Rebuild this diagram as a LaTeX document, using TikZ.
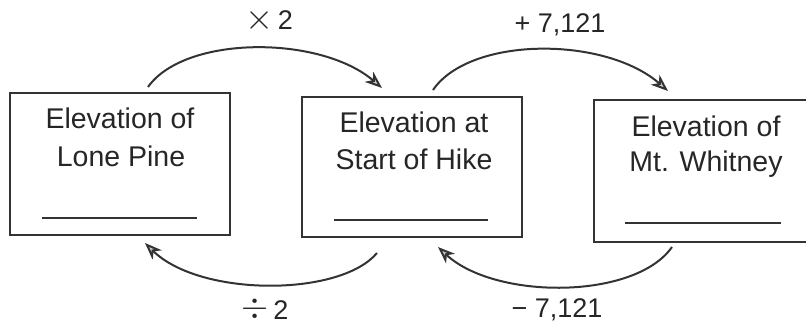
\documentclass[tikz,border=0pt]{standalone}
\usepackage{graphicx}
\usepackage{fontspec}
\setmainfont{Liberation Sans}
\usetikzlibrary{arrows.meta}
\definecolor{ink}{gray}{0.2}
\tikzset{
  box/.style={draw=ink, line width=1.9pt, rectangle, inner sep=0pt},
  txt/.style={anchor=base, inner sep=0pt, text=black!85, font=\fontsize{28.5}{34}\selectfont},
  lbl/.style={anchor=base, inner sep=0pt, text=black!85, font=\fontsize{27}{32}\selectfont},
  blank/.style={draw=ink, line width=1.1pt},
  arc/.style={draw=ink, line width=2pt, -{Stealth[length=17pt,width=13pt,inset=5pt,fill=gray!40]}}
}
\begin{document}
\begin{tikzpicture}[x=1pt,y=1pt]
\useasboundingbox (0,0) rectangle (806,328);
% boxes
\node[box, minimum width=220pt, minimum height=142pt] (b1) at (120,164) {};
\node[box, minimum width=220pt, minimum height=140pt] (b2) at (412,161) {};
\node[box, minimum width=224pt, minimum height=142pt] (b3) at (706,157) {};
% texts
\node[txt] (t1a) at (120,199) {Elevation of};
\node[txt] (t1b) at (121,161) {Lone Pine};
\node[txt] (t2a) at (414,195) {Elevation at};
\node[txt] (t2b) at (414,158) {Start of Hike};
\node[txt] (t3a) at (706,191) {Elevation of};
\node[txt] (t3b) at (706,156) {Mt. Whitney};
% blanks
\coordinate (l1a) at (42,110);  \coordinate (l1b) at (197,110);
\coordinate (l2a) at (334,108); \coordinate (l2b) at (488,108);
\coordinate (l3a) at (625,105); \coordinate (l3b) at (781,105);
\draw[blank] (l1a) -- (l1b);
\draw[blank] (l2a) -- (l2b);
\draw[blank] (l3a) -- (l3b);
% arrow ends
\coordinate (a1s) at (148,241); \coordinate (a1e) at (382,240);
\coordinate (a2s) at (433,238); \coordinate (a2e) at (668,237);
\coordinate (a3s) at (377,75);  \coordinate (a3e) at (145,85);
\coordinate (a4s) at (672,81);  \coordinate (a4e) at (438,81);
\draw[arc] (a1s) .. controls (185,293) and (320,293) .. (a1e);
\draw[arc] (a2s) .. controls (470,292) and (605,292) .. (a2e);
\draw[arc] (a3s) .. controls (340,31) and (200,31) .. (a3e);
\draw[arc] (a4s) .. controls (635,28) and (495,28) .. (a4e);
% labels
\node[lbl] (m1) at (269,298) {\scalebox{1.45}{$\times$}\,2};
\node[lbl] (m2) at (560,295) {+ 7,121};
\node[lbl] (m3) at (265,8) {\raisebox{2pt}{\scalebox{1.4}{$\div$}}\,2};
\node[lbl] (m4) at (557,10) {− 7,121};
\end{tikzpicture}
\end{document}
